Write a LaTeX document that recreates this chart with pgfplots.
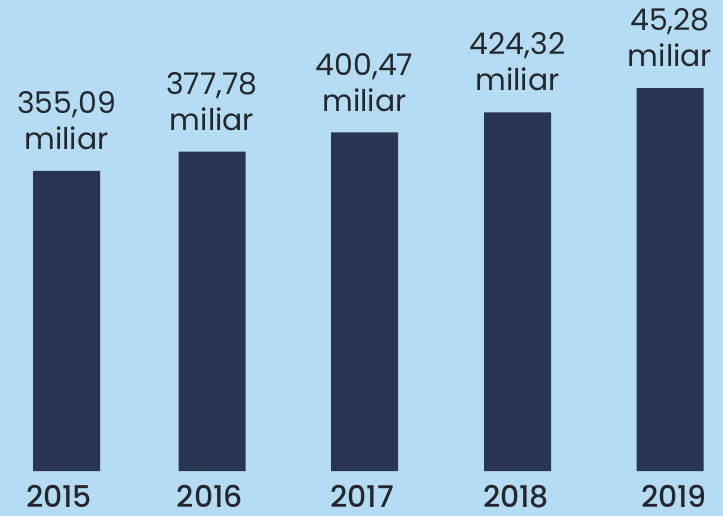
\documentclass[border=0pt]{standalone}
\usepackage{pgfplots}
\pgfplotsset{compat=1.18}
\usepackage{fontspec}
\setmainfont{Poppins}
\newfontfamily\yearfont{Poppins Medium}
\definecolor{bg}{HTML}{B4DDF5}
\definecolor{barnavy}{HTML}{2A3554}
\definecolor{txt}{HTML}{25272C}

\begin{document}
\begin{tikzpicture}[x=1bp,y=1bp]
\fill[bg] (0,0) rectangle (723,516);
\begin{axis}[
    at={(0,0)}, anchor=south west,
    width=723bp, height=516bp, scale only axis,
    hide axis, clip=false,
    xmin=0, xmax=723,
    ymin=-53.2, ymax=557.2,
]
% bars, values in miliar (last label reads 45,28 in the source)
\addplot[ybar, bar width=67, fill=barnavy, draw=none,
    nodes near coords, point meta=explicit symbolic,
    nodes near coords style={anchor=south, inner sep=0pt, yshift=21bp,
        align=center, text=txt, font=\fontsize{30}{36}\selectfont}]
coordinates {
    (66.5,355.09) [355,09\\miliar]
    (212,377.78) [377,78\\miliar]
    (364.5,400.47) [400,47\\miliar]
    (517.5,424.32) [424,32\\miliar]
    (670,452.80) [45,28\\miliar]
};
% year labels under the bars
\addplot[only marks, mark=none,
    nodes near coords, point meta=explicit symbolic,
    nodes near coords style={anchor=base, inner sep=0pt,
        text=txt, font=\yearfont\fontsize{30}{34}\selectfont}]
coordinates {
    (59,-43) [2015]
    (210,-43) [2016]
    (362,-43) [2017]
    (516,-43) [2018]
    (674,-43) [2019]
};
\end{axis}
\pgfresetboundingbox
\useasboundingbox (0,0) rectangle (723,516);
\end{tikzpicture}
\end{document}
